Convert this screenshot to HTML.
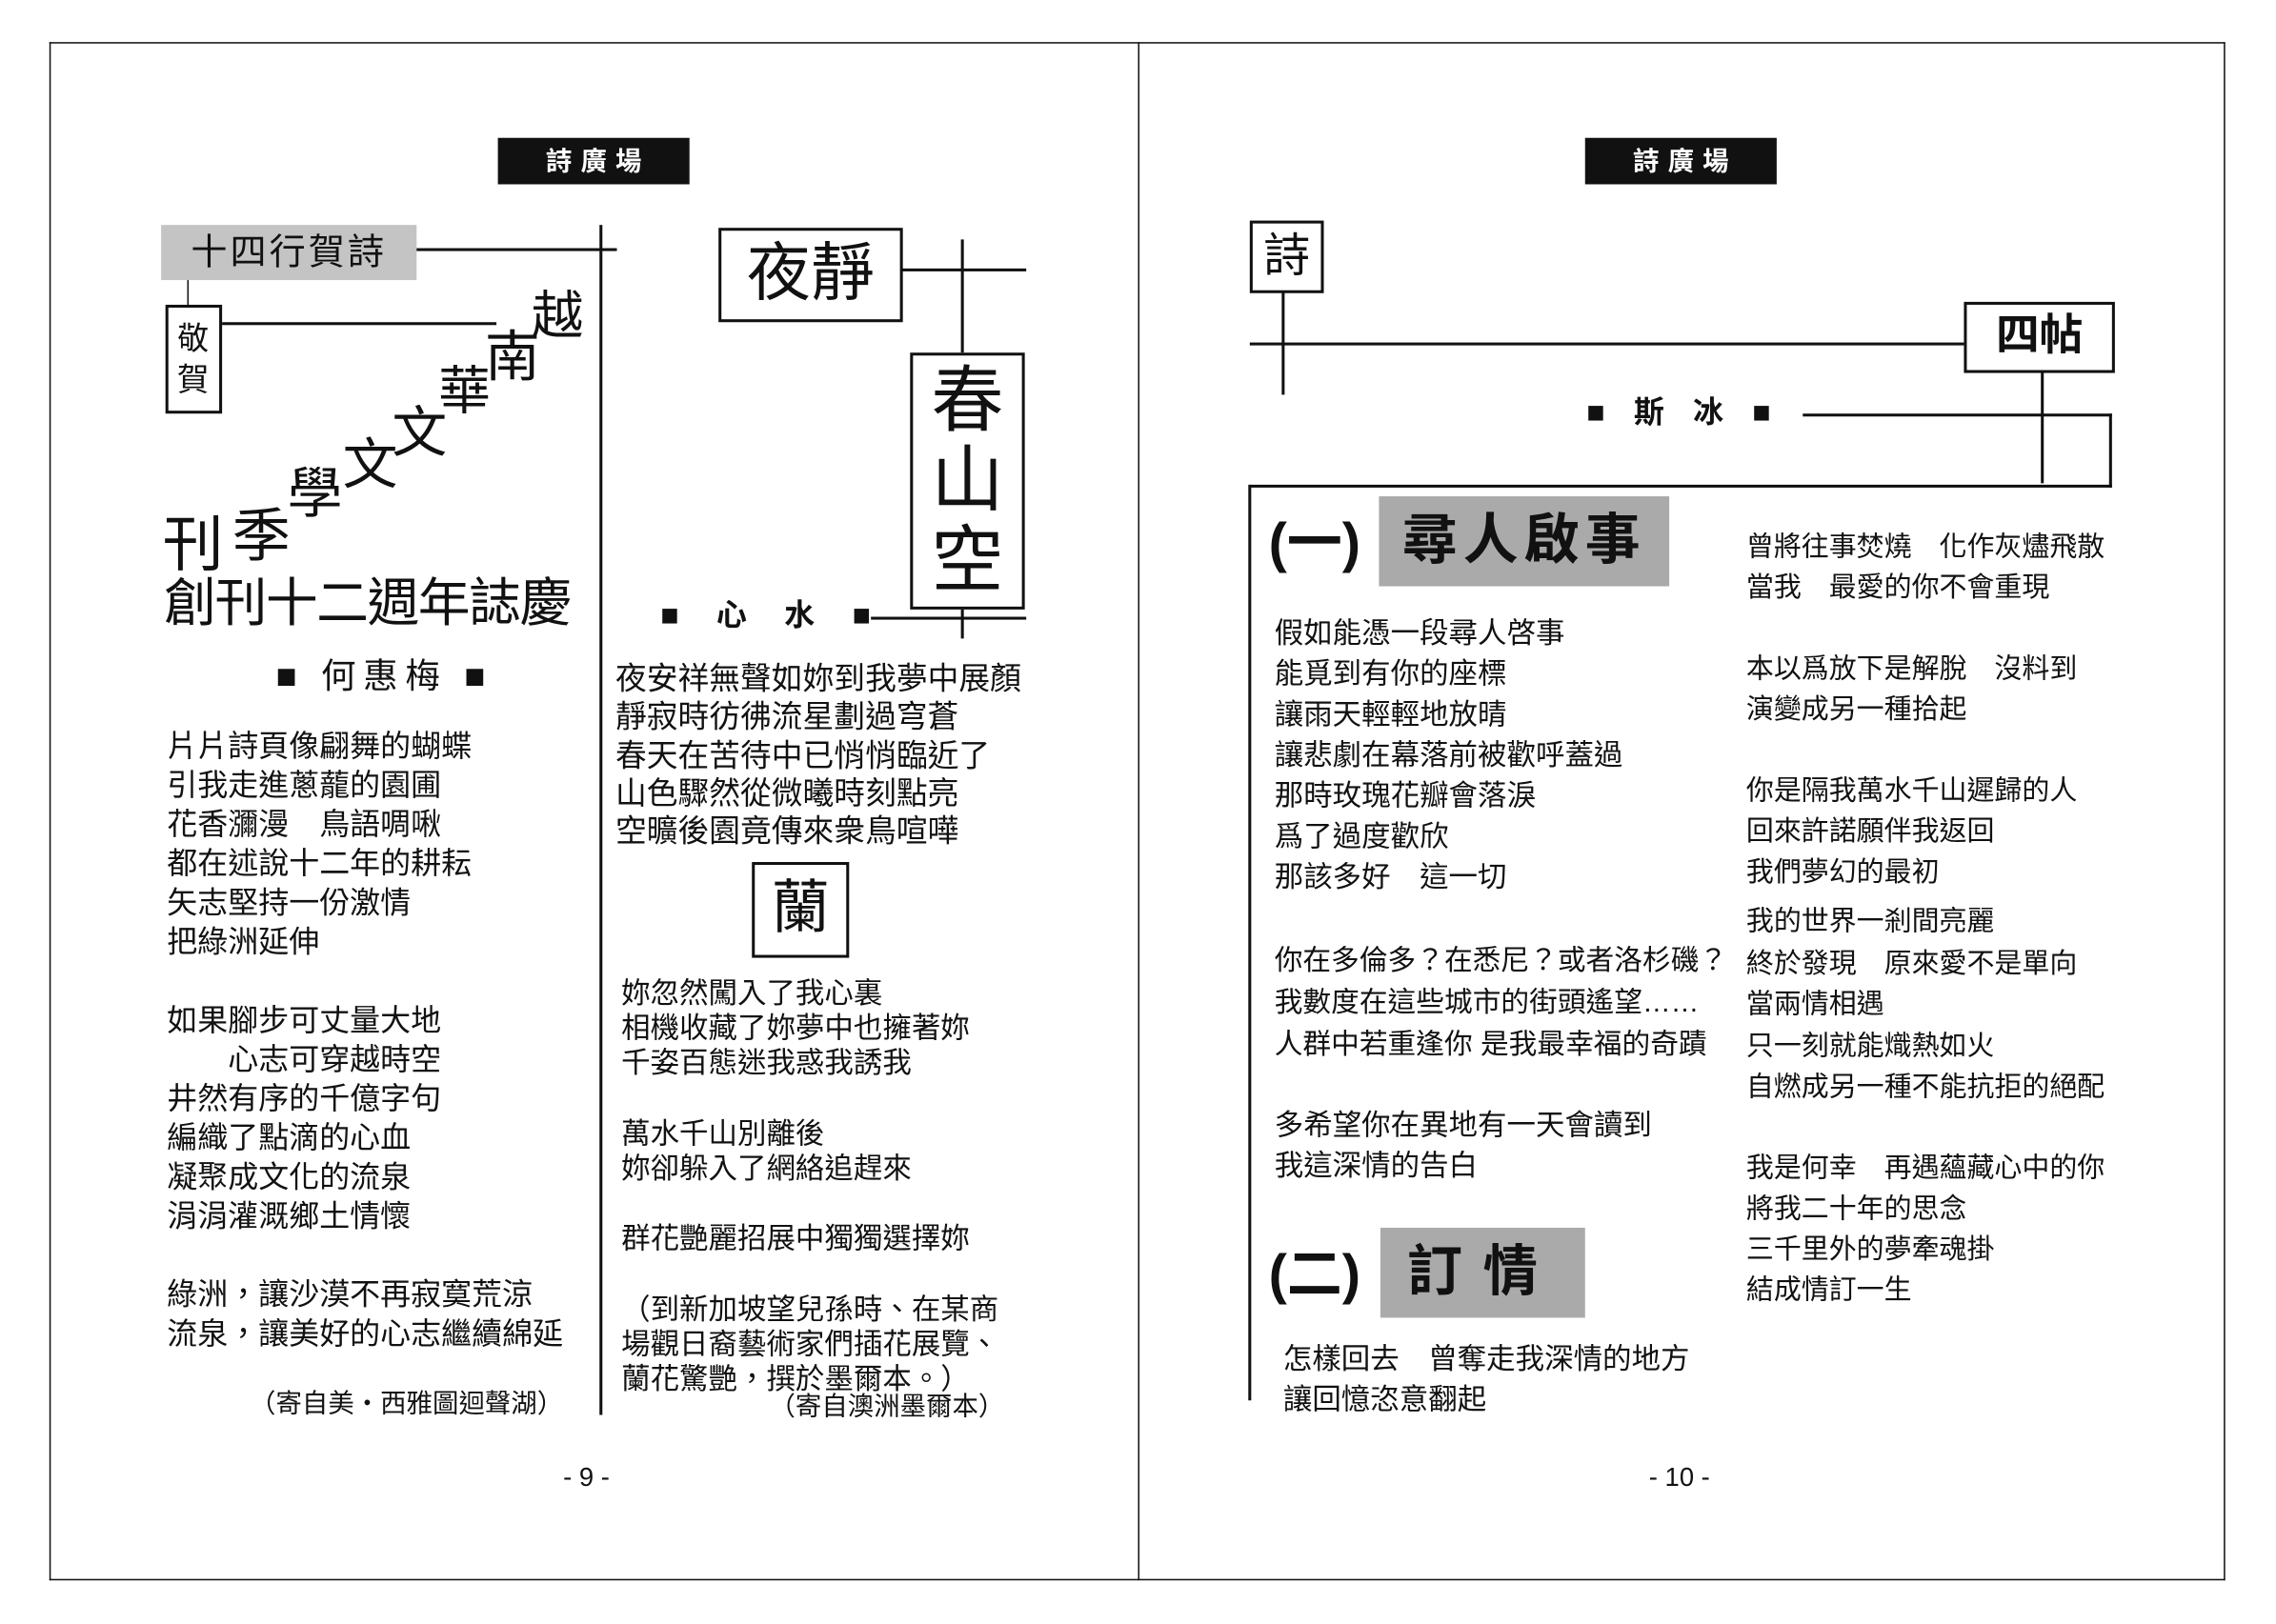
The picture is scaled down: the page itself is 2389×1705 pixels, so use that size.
<!DOCTYPE html>
<html><head><meta charset="utf-8">
<style>
html,body{margin:0;padding:0;background:#fff;overflow:hidden;}
#wrap{position:absolute;left:0;top:0;width:1568px;height:1119px;transform:scale(1.5236);transform-origin:0 0;font-family:"Liberation Sans","Noto Sans CJK TC",sans-serif;color:#111;}
.a{position:absolute;white-space:nowrap;line-height:1;}
.l{position:absolute;background:#111;}
.b{position:absolute;border:2px solid #111;box-sizing:border-box;}
.hd{position:absolute;background:#111;color:#fff;font-weight:bold;font-size:18px;text-align:center;line-height:32px;letter-spacing:6px;text-indent:6px;}
</style></head><body><div id="wrap">
<div class="l" style="left:34px;top:29px;width:1499px;height:1px"></div>
<div class="l" style="left:34px;top:1088px;width:1499px;height:1px"></div>
<div class="l" style="left:34px;top:29px;width:1px;height:1060px"></div>
<div class="l" style="left:1532px;top:29px;width:1px;height:1060px"></div>
<div class="l" style="left:784px;top:29px;width:1px;height:1060px"></div>

<div class="hd" style="left:343px;top:95px;width:132px;height:32px">詩廣場</div>
<div class="hd" style="left:1092px;top:95px;width:132px;height:32px">詩廣場</div>

<!-- LEFT PAGE -->
<div class="a" style="left:111px;top:155px;width:176px;height:38px;background:#c4c4c4;font-size:25px;line-height:38px;text-align:center;letter-spacing:2px">十四行賀詩</div>
<div class="l" style="left:287px;top:171px;width:138px;height:2px"></div>
<div class="l" style="left:413px;top:155px;width:2px;height:820px"></div>
<div class="l" style="left:129px;top:193px;width:1px;height:17px"></div>
<div class="b" style="left:114px;top:210px;width:39px;height:75px"></div>
<div class="a" style="left:122px;top:220px;font-size:22px;line-height:28px;width:24px;white-space:normal">敬賀</div>
<div class="l" style="left:153px;top:222px;width:189px;height:2px"></div>
<div class="a" style="left:366px;top:200px;font-size:36px">越</div>
<div class="a" style="left:334px;top:228px;font-size:38px">南</div>
<div class="a" style="left:302px;top:252px;font-size:36px">華</div>
<div class="a" style="left:270px;top:280px;font-size:38px">文</div>
<div class="a" style="left:236px;top:302px;font-size:38px">文</div>
<div class="a" style="left:198px;top:322px;font-size:38px">學</div>
<div class="a" style="left:160px;top:350px;font-size:40px">季</div>
<div class="a" style="left:112px;top:355px;font-size:42px">刊</div>
<div class="a" style="left:113px;top:398px;font-size:36px;letter-spacing:-1px">創刊十二週年誌慶</div>
<div class="a" style="left:190px;top:455px;font-size:24px;letter-spacing:5px">■ 何惠梅 ■</div>
<div class="a" style="left:115px;top:501px;font-size:21px;line-height:27px">片片詩頁像翩舞的蝴蝶<br>引我走進蔥蘢的園圃<br>花香瀰漫　鳥語啁啾<br>都在述說十二年的耕耘<br>矢志堅持一份激情<br>把綠洲延伸<br><br>如果腳步可丈量大地<br>　　心志可穿越時空<br>井然有序的千億字句<br>編織了點滴的心血<br>凝聚成文化的流泉<br>涓涓灌溉鄉土情懷<br><br>綠洲，讓沙漠不再寂寞荒涼<br>流泉，讓美好的心志繼續綿延</div>
<div class="a" style="left:172px;top:958px;font-size:18px">（寄自美・西雅圖迴聲湖）</div>

<!-- middle column -->
<div class="b" style="left:495px;top:157px;width:127px;height:65px;font-size:44px;line-height:60px;text-align:center">夜靜</div>
<div class="l" style="left:621px;top:185px;width:86px;height:2px"></div>
<div class="l" style="left:662px;top:165px;width:2px;height:78px"></div>
<div class="b" style="left:627px;top:243px;width:79px;height:177px;font-size:50px;line-height:55px;text-align:center;white-space:normal;padding-top:4px;background:#fff">春山空</div>
<div class="l" style="left:662px;top:420px;width:2px;height:20px"></div>
<div class="l" style="left:600px;top:425px;width:107px;height:2px"></div>
<div class="a" style="left:455px;top:414px;font-size:21px;font-weight:bold;letter-spacing:10px">■ 心 水 ■</div>
<div class="a" style="left:424px;top:455px;font-size:21.5px;line-height:26.3px">夜安祥無聲如妳到我夢中展顏<br>靜寂時彷彿流星劃過穹蒼<br>春天在苦待中已悄悄臨近了<br>山色驟然從微曦時刻點亮<br>空曠後園竟傳來衆鳥喧嘩</div>
<div class="b" style="left:518px;top:594px;width:67px;height:66px;font-size:40px;line-height:60px;text-align:center">蘭</div>
<div class="a" style="left:428px;top:673px;font-size:20px;line-height:24.2px">妳忽然闖入了我心裏<br>相機收藏了妳夢中也擁著妳<br>千姿百態迷我惑我誘我<br><br>萬水千山別離後<br>妳卻躲入了網絡追趕來<br><br>群花艷麗招展中獨獨選擇妳<br><br>（到新加坡望兒孫時、在某商<br>場觀日裔藝術家們插花展覽、<br>蘭花驚艷，撰於墨爾本。）</div>
<div class="a" style="left:530px;top:960px;font-size:18px">（寄自澳洲墨爾本）</div>
<div class="a" style="left:388px;top:1009px;font-size:18px">- 9 -</div>

<!-- RIGHT PAGE -->
<div class="b" style="left:861px;top:152px;width:51px;height:50px;font-size:32px;line-height:44px;text-align:center">詩</div>
<div class="l" style="left:883px;top:201px;width:2px;height:71px"></div>
<div class="l" style="left:861px;top:236px;width:492px;height:2px"></div>
<div class="b" style="left:1353px;top:208px;width:104px;height:49px;font-size:30px;line-height:44px;text-align:center;font-weight:bold">四帖</div>
<div class="l" style="left:1406px;top:256px;width:2px;height:77px"></div>
<div class="a" style="left:1093px;top:274px;font-size:21px;font-weight:bold;letter-spacing:7px">■ 斯 冰 ■</div>
<div class="l" style="left:1242px;top:285px;width:213px;height:2px"></div>
<div class="l" style="left:1453px;top:285px;width:2px;height:51px"></div>
<div class="l" style="left:861px;top:334px;width:594px;height:2px"></div>
<div class="l" style="left:860px;top:334px;width:2px;height:631px"></div>

<div class="a" style="left:874px;top:356px;font-size:38px;font-weight:bold">(一)</div>
<div class="a" style="left:950px;top:342px;width:200px;height:62px;background:#aaa;font-size:38px;line-height:62px;text-align:center;font-weight:bold;letter-spacing:4px">尋人啟事</div>
<div class="a" style="left:878px;top:423px;font-size:20px;line-height:28px">假如能憑一段尋人啓事<br>能覓到有你的座標<br>讓雨天輕輕地放晴<br>讓悲劇在幕落前被歡呼蓋過<br>那時玫瑰花瓣會落淚<br>爲了過度歡欣<br>那該多好　這一切</div>
<div class="a" style="left:878px;top:648px;font-size:19.5px;line-height:29px">你在多倫多？在悉尼？或者洛杉磯？<br>我數度在這些城市的街頭遙望……<br>人群中若重逢你 是我最幸福的奇蹟</div>
<div class="a" style="left:878px;top:762px;font-size:20px;line-height:28px">多希望你在異地有一天會讀到<br>我這深情的告白</div>
<div class="a" style="left:874px;top:860px;font-size:38px;font-weight:bold">(二)</div>
<div class="a" style="left:951px;top:846px;width:141px;height:62px;background:#aaa;font-size:38px;line-height:62px;text-align:center;font-weight:bold;letter-spacing:14px">訂情</div>
<div class="a" style="left:884px;top:923px;font-size:20px;line-height:28px">怎樣回去　曾奪走我深情的地方<br>讓回憶恣意翻起</div>

<div class="a" style="left:1203px;top:364px;font-size:19px;line-height:28px">曾將往事焚燒　化作灰燼飛散<br>當我　最愛的你不會重現<br><br>本以爲放下是解脫　沒料到<br>演變成另一種拾起<br><br>你是隔我萬水千山遲歸的人<br>回來許諾願伴我返回<br>我們夢幻的最初</div>
<div class="a" style="left:1203px;top:622px;font-size:19px;line-height:28.5px">我的世界一剎間亮麗<br>終於發現　原來愛不是單向<br>當兩情相遇<br>只一刻就能熾熱如火<br>自燃成另一種不能抗拒的絕配</div>
<div class="a" style="left:1203px;top:792px;font-size:19px;line-height:28px">我是何幸　再遇蘊藏心中的你<br>將我二十年的思念<br>三千里外的夢牽魂掛<br>結成情訂一生</div>
<div class="a" style="left:1136px;top:1009px;font-size:18px">- 10 -</div>
</div></body></html>
